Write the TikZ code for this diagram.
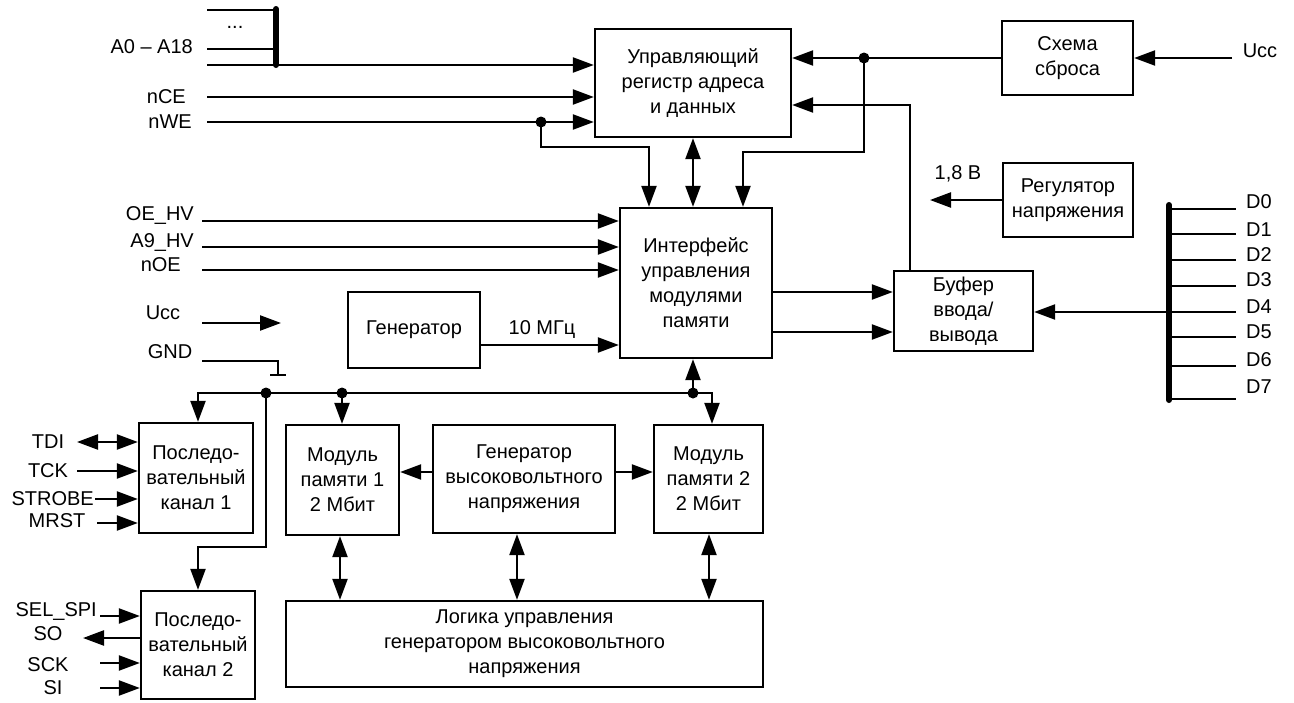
\documentclass[tikz,border=0pt]{standalone}
\usepackage{fontspec}
\setmainfont{Liberation Sans}
\usetikzlibrary{arrows.meta,calc}
\begin{document}
\begin{tikzpicture}[x=1pt,y=-1pt,
 every node/.style={font=\fontsize{20}{25}\selectfont, inner sep=0pt},
 blk/.style={draw, line width=2.3pt, align=center},
 ln/.style={line width=2.3pt},
 arr/.style={ln, -{Triangle[length=21pt,width=15pt]}},
 darr/.style={ln, {Triangle[length=21pt,width=15pt]}-{Triangle[length=21pt,width=15pt]}},
 bus/.style={line width=6pt, line cap=round},
 dot/.style={circle, fill, minimum size=11pt, inner sep=0pt}
]
\useasboundingbox (0,0) rectangle (1294,702);

% blocks
\node[blk, minimum width=196pt, minimum height=108pt] (reg) at (693,83) {Управляющий\\регистр адреса\\и данных};
\node[blk, minimum width=131pt, minimum height=74pt] (reset) at (1067.5,58) {Схема\\сброса};
\node[blk, minimum width=130pt, minimum height=74pt] (regu) at (1068,200) {Регулятор\\напряжения};
\node[blk, minimum width=152pt, minimum height=150pt] (iface) at (696,283) {Интерфейс\\управления\\модулями\\памяти};
\node[blk, minimum width=139pt, minimum height=80pt] (buf) at (963.5,311) {Буфер\\ввода/\\вывода};
\node[blk, minimum width=132pt, minimum height=76pt] (gen) at (414,330) {Генератор};
\node[blk, minimum width=114pt, minimum height=110pt] (ch1) at (196,478) {Последо-\\вательный\\канал 1};
\node[blk, minimum width=114pt, minimum height=108pt] (ch2) at (198,645) {Последо-\\вательный\\канал 2};
\node[blk, minimum width=113pt, minimum height=110pt] (mod1) at (342.5,480) {Модуль\\памяти 1\\2 Мбит};
\node[blk, minimum width=182pt, minimum height=108pt] (hv) at (524,479) {Генератор\\высоковольтного\\напряжения};
\node[blk, minimum width=109pt, minimum height=108pt] (mod2) at (708.5,479) {Модуль\\памяти 2\\2 Мбит};
\node[blk, minimum width=477pt, minimum height=86pt] (logic) at (524.5,644) {Логика управления\\генератором высоковольтного\\напряжения};

% address bus
\draw[bus] (276,9) -- (276,65);
\coordinate (a1) at (207,10);
\coordinate (a2) at (207,49);
\coordinate (a3) at (207,65);
\draw[ln] (a1) -- (276,10);
\draw[ln] (a2) -- (276,49);
\draw[arr] (a3) -- (a3 -| reg.west);
\node at (235,27) {...};
\node[anchor=east] (la) at (193,47) {A0 – A18};

\coordinate (ce) at (207,97);
\coordinate (we) at (207,122);
\draw[arr] (ce) -- (ce -| reg.west);
\draw[arr] (we) -- (we -| reg.west);
\node[anchor=east] (lce) at (186,97) {nCE};
\node[anchor=east] (lwe) at (192,122) {nWE};
\node[dot] (wedot) at (541,122) {};
\coordinate (wec) at (649,147);
\draw[arr] (wedot.center) |- (wec) -- (wec |- iface.north);

% register <-> interface
\draw[darr] (reg.south) -- (reg.south |- iface.north);

% reset
\node[dot] (rdot) at (864,58) {};
\draw[arr] (reset.west) -- (reset.west -| reg.east);
\coordinate (rc) at (743,152);
\draw[arr] (rdot.center) |- (rc) -- (rc |- iface.north);
\coordinate (uccr) at (1232,58);
\draw[arr] (uccr) -- (reset.east);
\node (luccr) at (1260,51) {Ucc};

% buffer feedback
\coordinate (bt) at (910,105);
\draw[arr] (bt |- buf.north) -- (bt) -- (bt -| reg.east);

% regulator
\coordinate (v18) at (930,200);
\draw[arr] (regu.west) -- (v18);
\node (l18) at (958,174) {1,8 В};

% interface -> buffer
\coordinate (ib1) at (772,292);
\coordinate (ib2) at (772,332);
\draw[arr] (ib1) -- (ib1 -| buf.west);
\draw[arr] (ib2) -- (ib2 -| buf.west);

% data bus
\draw[bus] (1169,205) -- (1169,400);
\foreach \i/\yy/\ly in {0/209/202,1/234/230,2/260/255,3/286/280,4/312/307,5/337/332,6/366/360,7/399/387}{
  \coordinate (dd\i) at (1236,\yy);
  \draw[ln] (1169,\yy) -- (dd\i);
  \node[anchor=west] (ld\i) at (1246,\ly) {D\i};
}
\coordinate (dbus) at (1169,312);
\draw[arr] (dbus) -- (dbus -| buf.east);

% interface inputs
\coordinate (oe) at (202,221);
\coordinate (a9) at (202,247);
\coordinate (noe) at (202,270);
\draw[arr] (oe) -- (oe -| iface.west);
\draw[arr] (a9) -- (a9 -| iface.west);
\draw[arr] (noe) -- (noe -| iface.west);
\node[anchor=east] (loe) at (194,215) {OE\_HV};
\node[anchor=east] (la9) at (194,242) {A9\_HV};
\node[anchor=east] (lnoe) at (181,265) {nOE};

% Ucc / GND
\coordinate (ucc1) at (202,323);
\coordinate (ucc2) at (281,323);
\draw[arr] (ucc1) -- (ucc2);
\node (lucc) at (163,313) {Ucc};
\node (lgnd) at (170,352) {GND};
\coordinate (g1) at (202,361);
\coordinate (g2) at (278,375);
\draw[ln] (g1) -| (g2);
\draw[ln] (270,375) -- (286,375);

% generator
\coordinate (gq) at (480,345);
\draw[arr] (gq) -- (gq -| iface.west);
\node (l10) at (542,330) {10 МГц};

% internal bus
\node[dot] (b1) at (266,393) {};
\node[dot] (b2) at (342,393) {};
\node[dot] (b3) at (693,393) {};
\coordinate (bl) at (198,393);
\coordinate (br) at (712,393);
\draw[arr] (b1.center) -- (bl) -- (bl |- ch1.north);
\draw[arr] (b1.center) -- (br) -- (br |- mod2.north);
\draw[arr] (b2.center) -- (b2.center |- mod1.north);
\draw[arr] (b3.center) -- (b3.center |- iface.south);
\coordinate (b4) at (198,547);
\draw[arr] (b1.center) |- (b4) -- (b4 |- ch2.north);

% HV generator arrows
\coordinate (hy) at (600,472);
\draw[arr] (hy -| hv.west) -- (hy -| mod1.east);
\draw[arr] (hy -| hv.east) -- (hy -| mod2.west);

% to logic
\coordinate (l1) at (340,0);
\coordinate (l2) at (517,0);
\coordinate (l3) at (709,0);
\draw[darr] (l1 |- mod1.south) -- (l1 |- logic.north);
\draw[darr] (l2 |- hv.south) -- (l2 |- logic.north);
\draw[darr] (l3 |- mod2.south) -- (l3 |- logic.north);

% channel 1
\coordinate (tdi) at (77,442);
\coordinate (tck) at (77,471);
\coordinate (str) at (95,499);
\coordinate (mrs) at (97,523);
\draw[darr] (tdi) -- (tdi -| ch1.west);
\draw[arr] (tck) -- (tck -| ch1.west);
\draw[arr] (str) -- (str -| ch1.west);
\draw[arr] (mrs) -- (mrs -| ch1.west);
\node (ltdi) at (48,442) {TDI};
\node (ltck) at (48,471) {TCK};
\node[anchor=east] (lstr) at (94,499) {STROBE};
\node (lmrs) at (57,521) {MRST};

% channel 2
\coordinate (sel) at (100,616);
\coordinate (so) at (83,638);
\coordinate (sck) at (100,663);
\coordinate (si) at (100,688);
\draw[arr] (sel) -- (sel -| ch2.west);
\draw[arr] (so -| ch2.west) -- (so);
\draw[arr] (sck) -- (sck -| ch2.west);
\draw[arr] (si) -- (si -| ch2.west);
\node[anchor=east] (lsel) at (97,611) {SEL\_SPI};
\node (lso) at (48,634) {SO};
\node (lsck) at (48,665) {SCK};
\node (lsi) at (53,688) {SI};
\end{tikzpicture}
\end{document}
